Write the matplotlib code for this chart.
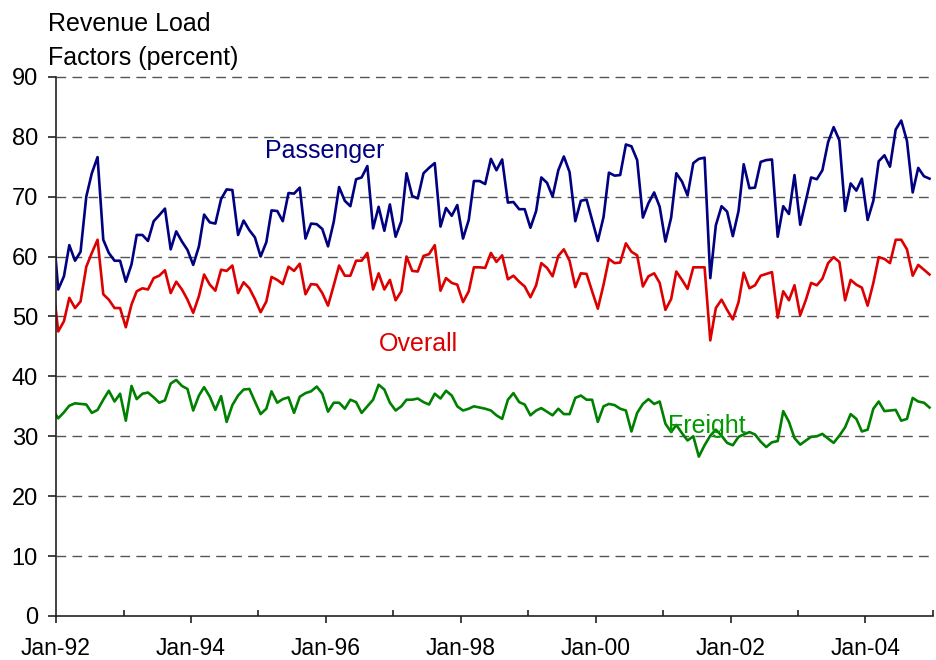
import numpy as np
import pandas as pd
import matplotlib
matplotlib.use('Agg')
import matplotlib.pyplot as plt
import matplotlib.dates as mdates

# monthly revenue load factors, Dec-91 .. Dec-04 (Dec-91 only shows as the clipped start)
months = pd.date_range('1991-12-01', '2004-12-01', freq='MS')

passenger = [
    66.0,
    54.5, 56.7, 61.9, 59.3, 60.8, 70.0, 73.9, 76.6, 62.8, 60.6, 59.3, 59.3,
    55.8, 58.7, 63.6, 63.6, 62.6, 65.9, 66.9, 68.0, 61.2, 64.2, 62.5, 61.1,
    58.6, 61.7, 67.0, 65.7, 65.5, 69.6, 71.2, 71.1, 63.6, 66.0, 64.4, 63.2,
    60.0, 62.4, 67.7, 67.6, 65.9, 70.6, 70.5, 71.5, 63.0, 65.5, 65.4, 64.6,
    61.7, 65.8, 71.6, 69.3, 68.4, 72.9, 73.2, 75.1, 64.7, 68.3, 64.3, 68.7,
    63.3, 65.9, 73.9, 70.1, 69.7, 73.9, 74.8, 75.6, 65.0, 68.1, 66.8, 68.6,
    63.0, 66.1, 72.6, 72.6, 72.1, 76.3, 74.4, 76.2, 69.0, 69.1, 67.9, 67.9,
    64.8, 67.6, 73.2, 72.3, 70.0, 74.4, 76.7, 74.1, 65.9, 69.3, 69.5, 66.1,
    62.6, 66.6, 74.0, 73.5, 73.6, 78.7, 78.4, 76.1, 66.5, 68.9, 70.7, 68.3,
    62.5, 66.5, 73.9, 72.5, 70.2, 75.6, 76.3, 76.5, 56.4, 65.2, 68.4, 67.5,
    63.4, 67.6, 75.4, 71.4, 71.5, 75.8, 76.1, 76.2, 63.3, 68.4, 67.1, 73.6,
    65.3, 69.4, 73.2, 72.9, 74.4, 79.1, 81.6, 79.4, 67.6, 72.2, 71.0, 73.0,
    66.1, 69.3, 75.9, 76.9, 75.0, 81.2, 82.7, 79.3, 70.7, 74.8, 73.4, 73.0,
]

overall = [
    56.0,
    47.5, 49.2, 53.1, 51.4, 52.5, 58.3, 60.6, 62.8, 53.7, 52.8, 51.4, 51.4,
    48.2, 52.0, 54.2, 54.7, 54.5, 56.4, 56.8, 57.7, 53.9, 55.8, 54.5, 52.8,
    50.6, 53.4, 57.0, 55.3, 54.3, 57.8, 57.6, 58.5, 53.9, 55.7, 54.7, 52.9,
    50.7, 52.5, 56.6, 56.1, 55.4, 58.3, 57.6, 58.8, 53.7, 55.4, 55.3, 53.9,
    51.8, 55.2, 58.5, 56.8, 56.8, 59.3, 59.3, 60.6, 54.5, 57.2, 54.5, 56.1,
    52.7, 54.2, 60.0, 57.6, 57.5, 60.1, 60.4, 61.9, 54.3, 56.4, 55.6, 55.3,
    52.4, 54.2, 58.2, 58.2, 58.1, 60.6, 59.1, 60.2, 56.2, 56.8, 55.8, 55.0,
    53.2, 55.2, 58.9, 58.1, 56.7, 60.1, 61.2, 59.3, 54.9, 57.2, 57.1, 54.2,
    51.3, 55.3, 59.6, 58.9, 59.0, 62.2, 60.8, 60.2, 55.0, 56.7, 57.2, 55.6,
    51.1, 52.9, 57.5, 56.1, 54.6, 58.2, 58.2, 58.2, 46.0, 51.4, 52.8, 51.1,
    49.5, 52.4, 57.3, 54.7, 55.2, 56.8, 57.1, 57.4, 49.8, 54.2, 52.7, 55.2,
    50.2, 52.8, 55.6, 55.2, 56.3, 58.9, 59.9, 59.1, 52.7, 56.1, 55.3, 54.8,
    51.8, 55.6, 59.9, 59.6, 58.9, 62.8, 62.8, 61.2, 56.8, 58.6, 57.8, 57.0,
]

freight = [
    34.5,
    33.0, 34.0, 35.1, 35.5, 35.4, 35.3, 33.9, 34.4, 36.1, 37.6, 35.8, 37.1,
    32.6, 38.4, 36.2, 37.1, 37.3, 36.5, 35.6, 36.0, 38.8, 39.4, 38.4, 37.9,
    34.3, 36.8, 38.2, 36.6, 34.4, 36.7, 32.4, 35.2, 36.8, 37.8, 37.9, 35.8,
    33.7, 34.6, 37.5, 35.6, 36.2, 36.5, 33.9, 36.6, 37.2, 37.5, 38.3, 37.1,
    34.1, 35.6, 35.6, 34.6, 36.1, 35.7, 33.9, 35.0, 36.1, 38.6, 37.8, 35.6,
    34.3, 35.0, 36.1, 36.1, 36.3, 35.7, 35.3, 37.1, 36.3, 37.6, 36.8, 35.0,
    34.3, 34.6, 35.0, 34.8, 34.6, 34.3, 33.5, 32.9, 36.1, 37.2, 35.7, 35.3,
    33.5, 34.3, 34.7, 34.1, 33.5, 34.6, 33.7, 33.7, 36.4, 36.8, 36.1, 36.1,
    32.4, 35.0, 35.4, 35.2, 34.6, 34.3, 30.8, 33.9, 35.4, 36.2, 35.4, 35.8,
    32.1, 30.7, 31.9, 30.5, 29.3, 30.0, 26.6, 28.5, 30.1, 31.1, 30.1, 28.9,
    28.5, 29.9, 30.3, 30.7, 30.3, 29.1, 28.2, 29.0, 29.2, 34.2, 32.4, 29.7,
    28.6, 29.3, 29.9, 30.0, 30.4, 29.6, 28.9, 30.1, 31.5, 33.7, 32.9, 30.8,
    31.1, 34.6, 35.8, 34.2, 34.3, 34.4, 32.6, 32.9, 36.4, 35.8, 35.6, 34.8,
]

COLORS = {
    'passenger': '#000080',
    'overall': '#DD0000',
    'freight': '#008000',
    'freight_text': '#009900',
    'grid': '#555555',
    'axis': '#222222',
}

plt.rcParams.update({
    'font.family': ['Liberation Sans', 'DejaVu Sans'],
    'font.size': 17,
    'axes.linewidth': 1.2,
    'axes.edgecolor': COLORS['axis'],
})

fig = plt.figure(figsize=(9.36, 6.6), dpi=100)
ax = fig.add_axes([56 / 936, 44 / 660, 877 / 936, 541 / 660])

# points sit a little after the first of the month
x = months + pd.Timedelta(days=12)
ax.plot(x, passenger, color=COLORS['passenger'], lw=1.9)
ax.plot(x, overall, color=COLORS['overall'], lw=1.9)
ax.plot(x, freight, color=COLORS['freight'], lw=1.9)

ax.set_xlim(pd.Timestamp('1992-01-01'), pd.Timestamp('2005-01-01'))
ax.set_ylim(0, 90.3)
ax.set_yticks(np.arange(0, 91, 10))
for v in range(10, 91, 10):
    ax.axhline(v, color=COLORS['grid'], lw=1.0, ls=(0, (7, 4.5)), zorder=0.5)

for side in ['top', 'right']:
    ax.spines[side].set_visible(False)
ax.spines['left'].set_bounds(0, 90)

ax.xaxis.set_major_locator(mdates.YearLocator(2, month=1, day=1))
ax.xaxis.set_minor_locator(mdates.YearLocator(1, month=1, day=1))
ax.xaxis.set_major_formatter(mdates.DateFormatter('%b-%y'))
ax.tick_params(axis='x', which='major', direction='out', length=5, width=1.2,
               pad=10, labelsize=16.5, color=COLORS['axis'])
ax.tick_params(axis='x', which='minor', direction='in', length=4, width=1.2,
               color=COLORS['axis'])
ax.tick_params(axis='y', direction='out', length=6, width=1.2, pad=7,
               color=COLORS['axis'])

ax.text(pd.Timestamp('1995-02-05'), 76.4, 'Passenger', color=COLORS['passenger'],
        fontsize=18, ha='left', va='baseline')
ax.text(pd.Timestamp('1996-10-15'), 44.3, 'Overall', color=COLORS['overall'],
        fontsize=18, ha='left', va='baseline')
ax.text(pd.Timestamp('2001-01-25'), 30.6, 'Freight', color=COLORS['freight_text'],
        fontsize=18, ha='left', va='baseline')

fig.text(48 / 936, 1 - 12 / 660, 'Revenue Load\nFactors (percent)',
         ha='left', va='top', fontsize=18, linespacing=1.5)

fig.savefig('out.png', dpi=100)
